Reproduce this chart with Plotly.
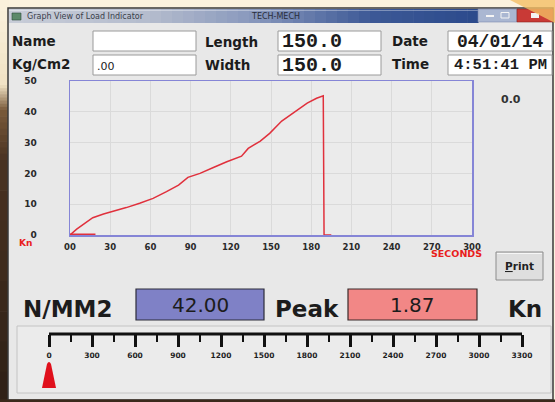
import plotly.graph_objects as go

W, H = 555, 402

# ---------------- data ----------------
time_s = [0, 5, 11, 17, 25, 32, 42, 52, 62, 72, 81, 88, 97, 107, 117, 128, 133,
          142, 149, 158, 167, 177, 184, 189, 189.6, 195]
load_kn = [0, 1.9, 3.8, 5.6, 6.8, 7.6, 8.9, 10.3, 11.9, 14.1, 16.2, 18.7, 20.0,
           21.9, 23.8, 25.6, 28.1, 30.5, 33.0, 37.0, 39.7, 42.8, 44.4, 45.2, 0, 0]
idle_time_s = [0, 19]
idle_load_kn = [0, 0]

x_ticks = [0, 30, 60, 90, 120, 150, 180, 210, 240, 270, 300]
x_tick_labels = ["00", "30", "60", "90", "120", "150", "180", "210", "240", "270", "300"]
y_ticks = [0, 10, 20, 30, 40, 50]
y_tick_labels = ["0", "10", "20", "30", "40", "50"]

scale_ticks = [0, 300, 600, 900, 1200, 1500, 1800, 2100, 2400, 2700, 3000, 3300]
scale_tick_labels = ["0", "300", "600", "900", "1200", "1500", "1800", "2100",
                     "2400", "2700", "3000", "3300"]
scale_minor_ticks = [150, 450, 750, 1050, 1350, 1650, 1950, 2250, 2550, 2850, 3150]
pointer_value = [0]

field_name = ""
field_kgcm2 = ".00"
field_length = "150.0"
field_width = "150.0"
field_date = "04/01/14"
field_time = "4:51:41 PM"
live_reading = "0.0"
stress_value = "42.00"
peak_value = "1.87"


def X(px):
    return px / W


def Y(py):
    return 1 - py / H


shapes = []
annotations = []


def rect(x0, y0, x1, y1, fill, line="rgba(0,0,0,0)", lw=0, layer="below"):
    shapes.append(dict(type="rect", xref="paper", yref="paper",
                       x0=X(x0), x1=X(x1), y0=Y(y1), y1=Y(y0),
                       fillcolor=fill, line=dict(color=line, width=lw), layer=layer))


def poly(points, fill, layer="below"):
    d = "M " + " L ".join(f"{X(a):.5f},{Y(b):.5f}" for a, b in points) + " Z"
    shapes.append(dict(type="path", xref="paper", yref="paper", path=d,
                       fillcolor=fill, line=dict(width=0), layer=layer))


def txt(x, y, s, size, color="#1c1c1c", family="DejaVu Sans", bold=False,
        xanchor="left"):
    annotations.append(dict(x=X(x), y=Y(y), xref="paper", yref="paper", text=s,
                            showarrow=False, xanchor=xanchor, yanchor="middle",
                            font=dict(size=size, color=color, family=family,
                                      weight="bold" if bold else "normal"),
                            borderpad=0))


def hexmix(c1, c2, t):
    a = [int(c1[i:i + 2], 16) for i in (1, 3, 5)]
    b = [int(c2[i:i + 2], 16) for i in (1, 3, 5)]
    return "#" + "".join(f"{round(p + (q - p) * t):02x}" for p, q in zip(a, b))


# ---- background outside window ----
stops = [(0, "#fbf2de"), (85, "#f0e2c4"), (110, "#7a5a3a"), (160, "#4a3322"), (402, "#2e2016")]
for i in range(len(stops) - 1):
    y0, c0 = stops[i]
    y1, c1 = stops[i + 1]
    n = 8
    for k in range(n):
        ya = y0 + (y1 - y0) * k / n
        yb = y0 + (y1 - y0) * (k + 1) / n + 0.6
        rect(0, ya, 9, yb, hexmix(c0, c1, (k + 0.5) / n))

# window body
rect(8, 8, 553, 400, "#e8e8e8", "#3a3a3a", 1.5)
rect(0, 399.5, 555, 402, "#3b2a1c")

# title bar gradient
tstops = [(9, "#c8cdd8"), (150, "#b4bccd"), (260, "#8595bb"), (370, "#3d5996"), (478, "#2b4a8c")]
for i in range(len(tstops) - 1):
    x0, c0 = tstops[i]
    x1, c1 = tstops[i + 1]
    n = 10
    for k in range(n):
        xa = x0 + (x1 - x0) * k / n
        xb = x0 + (x1 - x0) * (k + 1) / n + 0.6
        rect(xa, 9, xb, 23, hexmix(c0, c1, (k + 0.5) / n))
rect(9, 10, 478, 11, "rgba(255,255,255,0.35)")
rect(478, 9, 517, 22, "#aab7d2", "#7d8cae", 0.6)
rect(517, 9, 553, 22, "#c93a36", "#8c2420", 0.6)
rect(486, 15, 494, 17, "#f4f4f4")
rect(501, 12.5, 509, 18, "rgba(0,0,0,0)", "#f4f4f4", 1)
rect(531, 13, 539, 18, "#f4f4f4")
# orange corner
poly([(510, 0), (555, 0), (555, 23)], "rgba(244,190,100,0.8)")
rect(12, 13, 21, 20, "#5c8a6a", "#2c4a3a", 0.6)
txt(26, 16, "Graph View of Load Indicator", 8, color="#3a404a")
txt(250, 16, "TECH-MECH", 8, color="#2a2e3a")

# ---- input fields ----
for (bx0, by0, bx1, by1) in [(93, 31, 196, 51), (278, 31, 381, 51), (448, 31, 552, 51),
                             (93, 55, 196, 75), (278, 55, 381, 75), (448, 55, 552, 75)]:
    rect(bx0, by0, bx1, by1, "#ffffff", "#9a9a9a", 1)

txt(11, 41, "Name", 13.5, bold=True)
txt(11, 64, "Kg/Cm2", 13.5, bold=True)
txt(204, 42, "Length", 13.5, bold=True)
txt(204, 65, "Width", 13.5, bold=True)
txt(391, 41, "Date", 13.5, bold=True)
txt(391, 64, "Time", 13.5, bold=True)
txt(97, 41, field_name, 11)
txt(96, 66, field_kgcm2, 11)
txt(281, 41, field_length, 20, family="Liberation Mono", bold=True)
txt(281, 65, field_width, 20, family="Liberation Mono", bold=True)
txt(500, 42, field_date, 18, family="Liberation Mono", bold=True, xanchor="center")
txt(500, 65, field_time, 15.5, family="Liberation Mono", bold=True, xanchor="center")

txt(511, 100, live_reading, 11, bold=True, color="#333333", xanchor="center")

# axis unit labels
txt(18, 243, "Kn", 9, color="#e8201c", bold=True)
txt(456, 253, "SECONDS", 9.5, color="#e8201c", bold=True, xanchor="center")

# print button
rect(496, 252, 543, 280, "#dedede", "#8c8c8c", 1)
rect(497, 253, 542, 254, "#f6f6f6")
txt(519.5, 266, "<b><u>P</u>rint</b>", 10.5, color="#222222", xanchor="center")

# readouts
txt(22, 309, "N/MM2", 23, bold=True)
rect(136, 289, 264, 320, "#7f81c6", "#2c2c3a", 1.2)
txt(200, 305, stress_value, 20, xanchor="center")
txt(274, 309, "Peak", 23, bold=True)
rect(348, 289, 477, 320, "#f28786", "#3a2a2a", 1.2)
txt(412.5, 305, peak_value, 20, xanchor="center")
txt(507, 309, "Kn", 23, bold=True)

# scale panel
rect(17, 326, 551, 393, "#ebebeb", "#c4c4c4", 1)

# scale axis geometry: value 0 at x=49 px, 3300 at x=522 px; a little padding
scale_pad_px = 10
px_per_unit = (522 - 49) / (scale_ticks[-1] - scale_ticks[0])
pad_units = scale_pad_px / px_per_unit

# scale baseline drawn in scale-axis units
shapes.append(dict(type="line", xref="x2", yref="paper",
                   x0=scale_ticks[0], x1=scale_ticks[-1], y0=Y(334), y1=Y(334),
                   line=dict(color="#111111", width=3), layer="above"))

# pointer (anchored to the scale axis value)
shapes.append(dict(type="path", xref="x2", xsizemode="pixel", xanchor=pointer_value[0],
                   yref="paper", ysizemode="pixel", yanchor=Y(388),
                   path="M -7,0 L -2,24 Q 0,28 2,24 L 7,0 Z",
                   fillcolor="#e0101c", line=dict(width=0), layer="above"))

# plot area background
rect(70, 81, 472, 235, "#ebebeb")

fig = go.Figure()
fig.add_trace(go.Scatter(x=time_s, y=load_kn, mode="lines",
                         line=dict(color="#e0303c", width=1.5),
                         hoverinfo="skip", showlegend=False))
fig.add_trace(go.Scatter(x=idle_time_s, y=idle_load_kn, mode="lines",
                         line=dict(color="#e0303c", width=3),
                         hoverinfo="skip", showlegend=False))
fig.add_trace(go.Scatter(x=pointer_value, y=[0], mode="markers",
                         marker=dict(size=1, opacity=0), xaxis="x2", yaxis="y2",
                         hoverinfo="skip", showlegend=False))

tick_font = dict(family="DejaVu Sans", size=9, color="#2a2a2a", weight="bold")
xtick_font = dict(family="DejaVu Sans", size=8.5, color="#2a2a2a", weight="bold")

fig.update_layout(
    width=W, height=H,
    margin=dict(l=0, r=0, t=0, b=0),
    paper_bgcolor="#fbf2de",
    plot_bgcolor="rgba(0,0,0,0)",
    shapes=shapes,
    annotations=annotations,
    xaxis=dict(domain=[X(70), X(472)], range=[0, 300], tickmode="array",
               tickvals=x_ticks, ticktext=x_tick_labels, tickfont=xtick_font,
               showline=True, mirror=True, linecolor="#8585d6", linewidth=1.5,
               showgrid=True, gridcolor="#dadada", gridwidth=1, zeroline=False,
               ticks="", ticklabelstandoff=3, automargin=False, layer="below traces",
               fixedrange=True),
    yaxis=dict(domain=[Y(235), Y(81)], range=[0, 50], tickmode="array",
               tickvals=y_ticks, ticktext=y_tick_labels, tickfont=tick_font,
               showline=True, mirror=True, linecolor="#8585d6", linewidth=1.5,
               showgrid=True, gridcolor="#dadada", gridwidth=1, zeroline=False,
               ticks="", ticklabelstandoff=30, automargin=False, layer="below traces",
               fixedrange=True),
    xaxis2=dict(domain=[X(49 - scale_pad_px), X(522 + scale_pad_px)],
                range=[scale_ticks[0] - pad_units, scale_ticks[-1] + pad_units],
                anchor="free", position=Y(334),
                tickmode="array", tickvals=scale_ticks, ticktext=scale_tick_labels,
                tickfont=dict(family="DejaVu Sans", size=7.5, color="#1e1e1e", weight="bold"),
                showline=False, ticklabelstandoff=2,
                ticks="outside", ticklen=12, tickwidth=3, tickcolor="#111111",
                minor=dict(tickmode="array", tickvals=scale_minor_ticks, ticks="outside",
                           ticklen=7, tickwidth=2, tickcolor="#111111", showgrid=False),
                showgrid=False, zeroline=False, automargin=False, fixedrange=True),
    yaxis2=dict(domain=[Y(392), Y(338)], range=[0, 1], visible=False, anchor="x2",
                fixedrange=True),
)

fig.write_html(
    "out.html",
    config={"displayModeBar": False, "staticPlot": True},
    post_script="document.body.style.margin='0';document.body.style.background='#fbf2de';",
)
